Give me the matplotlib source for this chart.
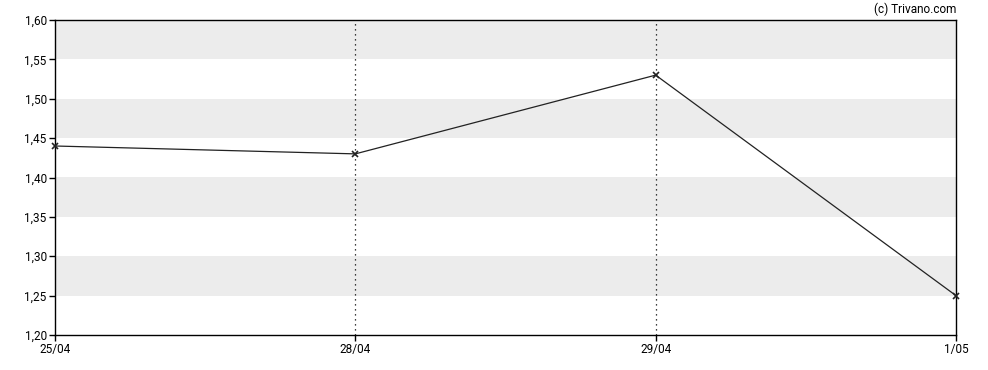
import matplotlib
matplotlib.use("Agg")
import matplotlib.pyplot as plt

dates = ["25/04", "28/04", "29/04", "1/05"]
prices = [1.44, 1.43, 1.53, 1.25]
y_ticks = [1.20, 1.25, 1.30, 1.35, 1.40, 1.45, 1.50, 1.55, 1.60]

plt.rcParams["font.family"] = ["Roboto", "DejaVu Sans"]

fig = plt.figure(figsize=(9.88, 3.7), dpi=100)
ax = fig.add_axes([55 / 988, 1 - 335 / 370, 901 / 988, 315 / 370])

x = list(range(len(dates)))

# alternating grey bands
for lo in y_ticks[1::2]:
    ax.axhspan(lo, lo + 0.05, color="#ececec", lw=0, zorder=0)

for xi in x[1:-1]:
    ax.axvline(xi, color="black", lw=0.9, ls=(0, (1, 3)), zorder=1)

ax.plot(x, prices, color="#222222", lw=0.9, marker="x", ms=4, mew=1.2,
        zorder=3, clip_on=False)

ax.set_xlim(0, len(dates) - 1)
ax.set_ylim(1.20, 1.60)
ax.set_xticks(x)
ax.set_xticklabels(dates)
ax.set_yticks(y_ticks)
ax.set_yticklabels([f"{v:.2f}".replace(".", ",") for v in y_ticks])
ax.tick_params(labelsize=8.5, length=4, width=1, pad=2, colors="black")
for s in ax.spines.values():
    s.set_linewidth(1)

fig.text(956 / 988, 1 - 9 / 370, "(c) Trivano.com", ha="right", va="center", fontsize=8.5)

fig.savefig("out.png", dpi=100)
